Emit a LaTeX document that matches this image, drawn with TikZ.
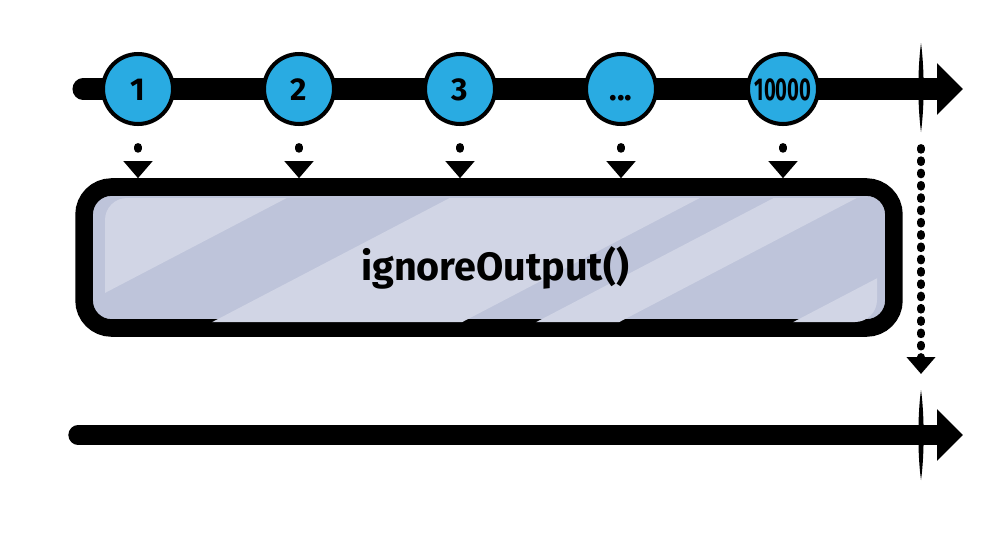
\documentclass[tikz,border=0pt]{standalone}
\usepackage{fontspec}
\setmainfont{Fira Sans}
\usepackage{graphicx}
\usetikzlibrary{arrows.meta,positioning,calc}
\definecolor{marble}{HTML}{29ABE2}
\definecolor{opdark}{HTML}{BEC4DA}
\definecolor{oplight}{HTML}{D1D5E5}

\begin{document}
\begin{tikzpicture}[x=0.02cm, y=-0.02cm]
    \tikzset{timeline/.style={line width=12pt, line cap=round,
             -{Triangle[length=0.52cm, width=1cm]}},
             ball/.style={circle, draw, line width=2.3pt, fill=marble,
             minimum size=1.4cm, inner sep=0pt, text height=0.44cm, text depth=0pt,
             font=\fontsize{18}{18}\selectfont\bfseries},
             feed/.style={line width=4.5pt, line cap=round, dash pattern=on 1pt off 6pt,
             -{Triangle[length=0.34cm, width=0.56cm]}},
             opbox/.style={draw, line width=10pt, rounded corners=0.55cm, fill=opdark,
             minimum width=16.2cm, minimum height=2.82cm}}
    \useasboundingbox (0,0) rectangle (993,538);
    \coordinate (tstart) at (83,89);
    \coordinate (tend)   at (963,89);
    \coordinate (bstart) at (78,435);
    \coordinate (bend)   at (963,435);
    \coordinate (tt) at (921,89);
    \coordinate (bt) at (921,435);
    \draw[timeline] (tstart) -- (tend);
    \draw[timeline, line width=11pt] (bstart) -- (bend);
    \fill (921,43) .. controls (924.5,70) and (924.5,105) .. (921,132)
                   .. controls (917.5,105) and (917.5,70) .. (921,43);
    \fill (921,390) .. controls (924.5,415) and (924.5,455) .. (921,480)
                    .. controls (917.5,455) and (917.5,415) .. (921,390);
    \node[ball] (n1) at (138,89) {1};
    \node[ball] (n2) at (299,89) {2};
    \node[ball] (n3) at (460,89) {3};
    \node[ball] (n4) at (621,89) {...};
    \node[ball] (n5) at (783,89) {\scalebox{0.64}[1]{10000}};
    \node[opbox] (ign) at (489,257.5) {};
    \begin{scope}
      \clip[rounded corners=0.44cm] (105,198) rectangle (877,322);
      \fill[oplight] (0,190) -- (302,190) -- (34,330) -- (0,330) -- cycle
                     (465,190) -- (715,190) -- (447,330) -- (197,330) -- cycle
                     (789,190) -- (872,190) -- (604,330) -- (521,330) -- cycle
                     (1046,190) -- (1100,190) -- (1100,330) -- (778,330) -- cycle;
    \end{scope}
    \node[font=\fontsize{22.5}{22.5}\selectfont\bfseries] (igntxt) at ($(ign.center)+(6,10)$) {ignoreOutput()};
    \draw[feed, dash pattern=on 1pt off 12pt] ($(n1.south)+(0,21)$) -- (n1 |- ign.north);
    \draw[feed, dash pattern=on 1pt off 12pt] ($(n2.south)+(0,21)$) -- (n2 |- ign.north);
    \draw[feed, dash pattern=on 1pt off 12pt] ($(n3.south)+(0,21)$) -- (n3 |- ign.north);
    \draw[feed, dash pattern=on 1pt off 12pt] ($(n4.south)+(0,21)$) -- (n4 |- ign.north);
    \draw[feed, dash pattern=on 1pt off 12pt] ($(n5.south)+(0,21)$) -- (n5 |- ign.north);
    \draw[feed] ($(tt)+(0,59)$) -- ($(bt)+(0,-61)$);
\end{tikzpicture}
\end{document}
